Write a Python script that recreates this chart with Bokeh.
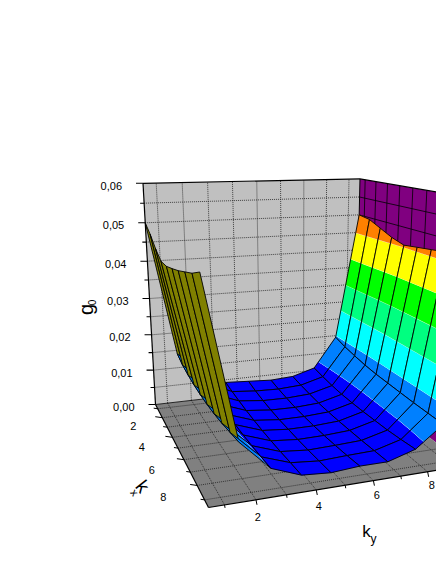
import numpy as np
from bokeh.plotting import figure
from bokeh.models import Range1d
from bokeh.core.properties import value
from bokeh.embed import file_html
from bokeh.resources import INLINE

# ---------- data ----------
kx_values = [0.5, 1.5, 2.5, 3.5, 4.5, 5.5, 6.5, 7.5, 8.5, 9.5]
ky_values = [0.5, 1.5, 2.5, 3.5, 4.5, 5.5, 6.5, 7.5, 8.5, 9.5]
g0_row0 = [.0500, .0140, .0075, .0042, .0038, .0034, .0038, .0057, .0145, .0500]
g0_row1 = [.0480, .0128, .0068, .0038, .0032, .0030, .0034, .0052, .0135, .0495]
g0_row2 = [.0455, .0122, .0062, .0035, .0028, .0027, .0031, .0048, .0128, .0480]
g0_row3 = [.0435, .0118, .0058, .0033, .0026, .0025, .0029, .0046, .0122, .0465]
g0_row4 = [.0435, .0116, .0056, .0032, .0025, .0025, .0029, .0046, .0118, .0455]
g0_row5 = [.0442, .0116, .0056, .0032, .0026, .0026, .0030, .0047, .0116, .0460]
g0_row6 = [.0450, .0118, .0057, .0033, .0027, .0028, .0032, .0049, .0114, .0465]
g0_row7 = [.0460, .0122, .0059, .0035, .0029, .0031, .0034, .0051, .0112, .0470]
g0_row8 = [.0470, .0128, .0062, .0038, .0032, .0035, .0037, .0055, .0111, .0475]
g0_row9 = [.0485, .0134, .0066, .0040, .0035, .0040, .0040, .0060, .0110, .0480]
g0 = [g0_row0, g0_row1, g0_row2, g0_row3, g0_row4, g0_row5, g0_row6, g0_row7, g0_row8, g0_row9]
g_ticks = [0.00, 0.01, 0.02, 0.03, 0.04, 0.05, 0.06]
g_tick_labels = ["0,00", "0,01", "0,02", "0,03", "0,04", "0,05", "0,06"]
g_minor = [0.005, 0.015, 0.025, 0.035, 0.045, 0.055]
k_ticks = [2, 4, 6, 8]
k_tick_labels = ["2", "4", "6", "8"]
k_minor = [1, 3, 5, 7, 9]
levels = [0.0, .0075, .015, .0225, .03, .0375, .045, .0525, .06]
band_colors = ["#0000ff", "#0080ff", "#00ffff", "#00ff80", "#00ff00", "#ffff00", "#ff8000", "#800080"]
strip_color = "#808000"

# ---------- camera ----------
KMIN, KMAX, GMAX = 0.5, 9.5, 0.06
floor_anchor = [(155, 404), (208, 507), (466, 465), (355, 381)]
top_anchor = [(143, 183), (359, 175), (484, 204)]


def solve_h(dst):
    src = [(0, 0), (1, 0), (1, 1), (0, 1)]
    A, b = [], []
    for (u, v), (x, y) in zip(src, dst):
        A.append([u, v, 1, 0, 0, 0, -u * x, -v * x]); b.append(x)
        A.append([0, 0, 0, u, v, 1, -u * y, -v * y]); b.append(y)
    h = np.linalg.solve(np.array(A, float), np.array(b, float))
    return np.array([[h[0], h[1], h[2]], [h[3], h[4], h[5]], [h[6], h[7], 1.0]])


H = solve_h(floor_anchor)
A, b = [], []
for (u, v), (x, y) in zip([(0, 0), (0, 1), (1, 1)], top_anchor):
    q = H @ np.array([u, v, 1.0])
    A.append([1, 0, -x]); b.append(x * q[2] - q[0])
    A.append([0, 1, -y]); b.append(y * q[2] - q[1])
C = np.linalg.lstsq(np.array(A), np.array(b), rcond=None)[0]


def proj(kx, ky, g=0.0):
    u, v, w = (kx - KMIN) / (KMAX - KMIN), (ky - KMIN) / (KMAX - KMIN), g / GMAX
    q = H @ np.array([u, v, 1.0]) + w * C
    return float(q[0] / q[2]), float(q[1] / q[2])


p = figure(width=436, height=564, x_range=Range1d(0, 436), y_range=Range1d(564, 0),
           output_backend="svg", toolbar_location=None, min_border=0,
           outline_line_color=None, background_fill_color="white")
p.xaxis.visible = False
p.yaxis.visible = False
p.grid.visible = False


def poly(pts, fill, line=None, lw=1.0):
    xs = [a for a, _ in pts]
    ys = [b for _, b in pts]
    p.patch(xs, ys, fill_color=fill, line_color=line, line_width=lw)


def seg(a, b, color="black", lw=1.0, dash="solid", alpha=1.0):
    p.line([a[0], b[0]], [a[1], b[1]], line_color=color, line_width=lw, line_dash=dash, line_alpha=alpha)


# walls and floor
poly([proj(KMIN, KMIN), proj(KMIN, KMIN, GMAX), proj(KMIN, KMAX, GMAX), proj(KMIN, KMAX)], "#c0c0c0")
poly([proj(KMIN, KMAX), proj(KMIN, KMAX, GMAX), proj(KMAX, KMAX, GMAX), proj(KMAX, KMAX)], "#800080")
poly([proj(KMIN, KMIN), proj(KMAX, KMIN), proj(KMAX, KMAX), proj(KMIN, KMAX)], "#808080")

all_k = sorted(k_ticks + k_minor)
all_g = sorted(g_ticks + g_minor)
DOT = "1 1"
for g in all_g[1:-1]:
    seg(proj(KMIN, KMIN, g), proj(KMIN, KMAX, g), "#202020", 0.8, DOT)
    seg(proj(KMIN, KMAX, g), proj(KMAX, KMAX, g), "black", 0.8)
for k in all_k:
    seg(proj(KMIN, k), proj(KMIN, k, GMAX), "#202020", 0.8, DOT)
    seg(proj(k, KMAX), proj(k, KMAX, GMAX), "black", 0.8)
    seg(proj(k, KMIN), proj(k, KMAX), "#202020", 0.8, DOT)
    seg(proj(KMIN, k), proj(KMAX, k), "#202020", 0.8, DOT)

# box edges that lie behind the surface
seg(proj(KMIN, KMAX), proj(KMIN, KMAX, GMAX), lw=1.0)
seg(proj(KMIN, KMIN), proj(KMIN, KMAX), lw=0.8)


# surface
def clip(poly_pts, lim, keep_above):
    out = []
    n = len(poly_pts)
    for i in range(n):
        a, b = poly_pts[i], poly_pts[(i + 1) % n]
        ina = a[2] >= lim if keep_above else a[2] <= lim
        inb = b[2] >= lim if keep_above else b[2] <= lim
        if ina:
            out.append(a)
        if ina != inb:
            t = (lim - a[2]) / (b[2] - a[2])
            out.append((a[0] + t * (b[0] - a[0]), a[1] + t * (b[1] - a[1]), lim))
    return out


for i in range(len(kx_values) - 1):
    for j in [0, 8, 1, 7, 2, 6, 3, 5, 4]:
        cell = [(kx_values[i], ky_values[j], g0[i][j]),
                (kx_values[i + 1], ky_values[j], g0[i + 1][j]),
                (kx_values[i + 1], ky_values[j + 1], g0[i + 1][j + 1]),
                (kx_values[i], ky_values[j + 1], g0[i][j + 1])]
        outline = [proj(*c) for c in cell]
        if j == 0:
            poly(outline, strip_color)
        else:
            for lo, hi, col in zip(levels[:-1], levels[1:], band_colors):
                part = clip(clip(cell, lo, True), hi, False)
                if len(part) >= 3:
                    pts = [proj(*c) for c in part]
                    poly(pts, col, col, 0.3)
                    chain = [c for c in part if abs(c[2] - hi) < 1e-12]
                    if len(chain) == 2:
                        seg(proj(*chain[0]), proj(*chain[1]), "white", 1.0)
        loop = outline + outline[:1]
        p.line([a for a, _ in loop], [b for _, b in loop], line_color="black", line_width=0.9)

# box edges in front
seg(proj(KMIN, KMIN), proj(KMIN, KMIN, GMAX), lw=1.2)
seg(proj(KMIN, KMIN, GMAX), proj(KMIN, KMAX, GMAX), lw=1.2)
seg(proj(KMIN, KMAX, GMAX), proj(KMAX, KMAX, GMAX), lw=1.2)
seg(proj(KMIN, KMIN), proj(KMAX, KMIN), lw=1.2)
seg(proj(KMAX, KMIN), proj(KMAX, KMAX), lw=1.2)


def off(pt, dx, dy):
    return pt[0] + dx, pt[1] + dy


def label(pt, txt, size="11px", align="center", baseline="middle", angle=0.0):
    p.text([pt[0]], [pt[1]], text=[txt], text_font=value("Liberation Sans"), text_font_size=value(size),
           text_align=align, text_baseline=baseline, angle=angle, text_color="black")


# g axis
for g, lab in zip(g_ticks, g_tick_labels):
    a = proj(KMIN, KMIN, g)
    seg(a, off(a, -7, 0), lw=1.1)
    label(off(a, -21, 2.5), lab, align="right")
for g in g_minor:
    a = proj(KMIN, KMIN, g)
    seg(a, off(a, -4, 0), lw=1.1)

# ky axis
for k, lab in zip(k_ticks, k_tick_labels):
    a = proj(KMAX, k)
    seg(a, off(a, 1, 5), lw=1.0)
    label(off(a, 1 + 0.4 * k, 18 - 0.6 * k), lab)
for k in k_minor:
    a = proj(KMAX, k)
    seg(a, off(a, 0.5, 3), lw=1.0)

# kx axis
for k, lab in zip(k_ticks, k_tick_labels):
    a = proj(k, KMIN)
    seg(a, off(a, -7, -1), lw=1.0)
    label(off(a, -29 - 0.8 * (k - 2), 8 + 0.67 * (k - 2)), lab)
for k in k_minor:
    a = proj(k, KMIN)
    seg(a, off(a, -4, -0.6), lw=1.0)

# axis titles
label((85, 309), "g", "20px", angle=np.pi / 2)
label((91, 302), "0", "10px", angle=np.pi / 2)
label((366, 531), "k", "17px")
label((373, 538), "y", "12px")
label((142, 486), "k", "19px", angle=-0.9)
label((134, 492), "x", "11px", angle=-0.9)

open("out.html", "w").write(file_html(p, INLINE))
